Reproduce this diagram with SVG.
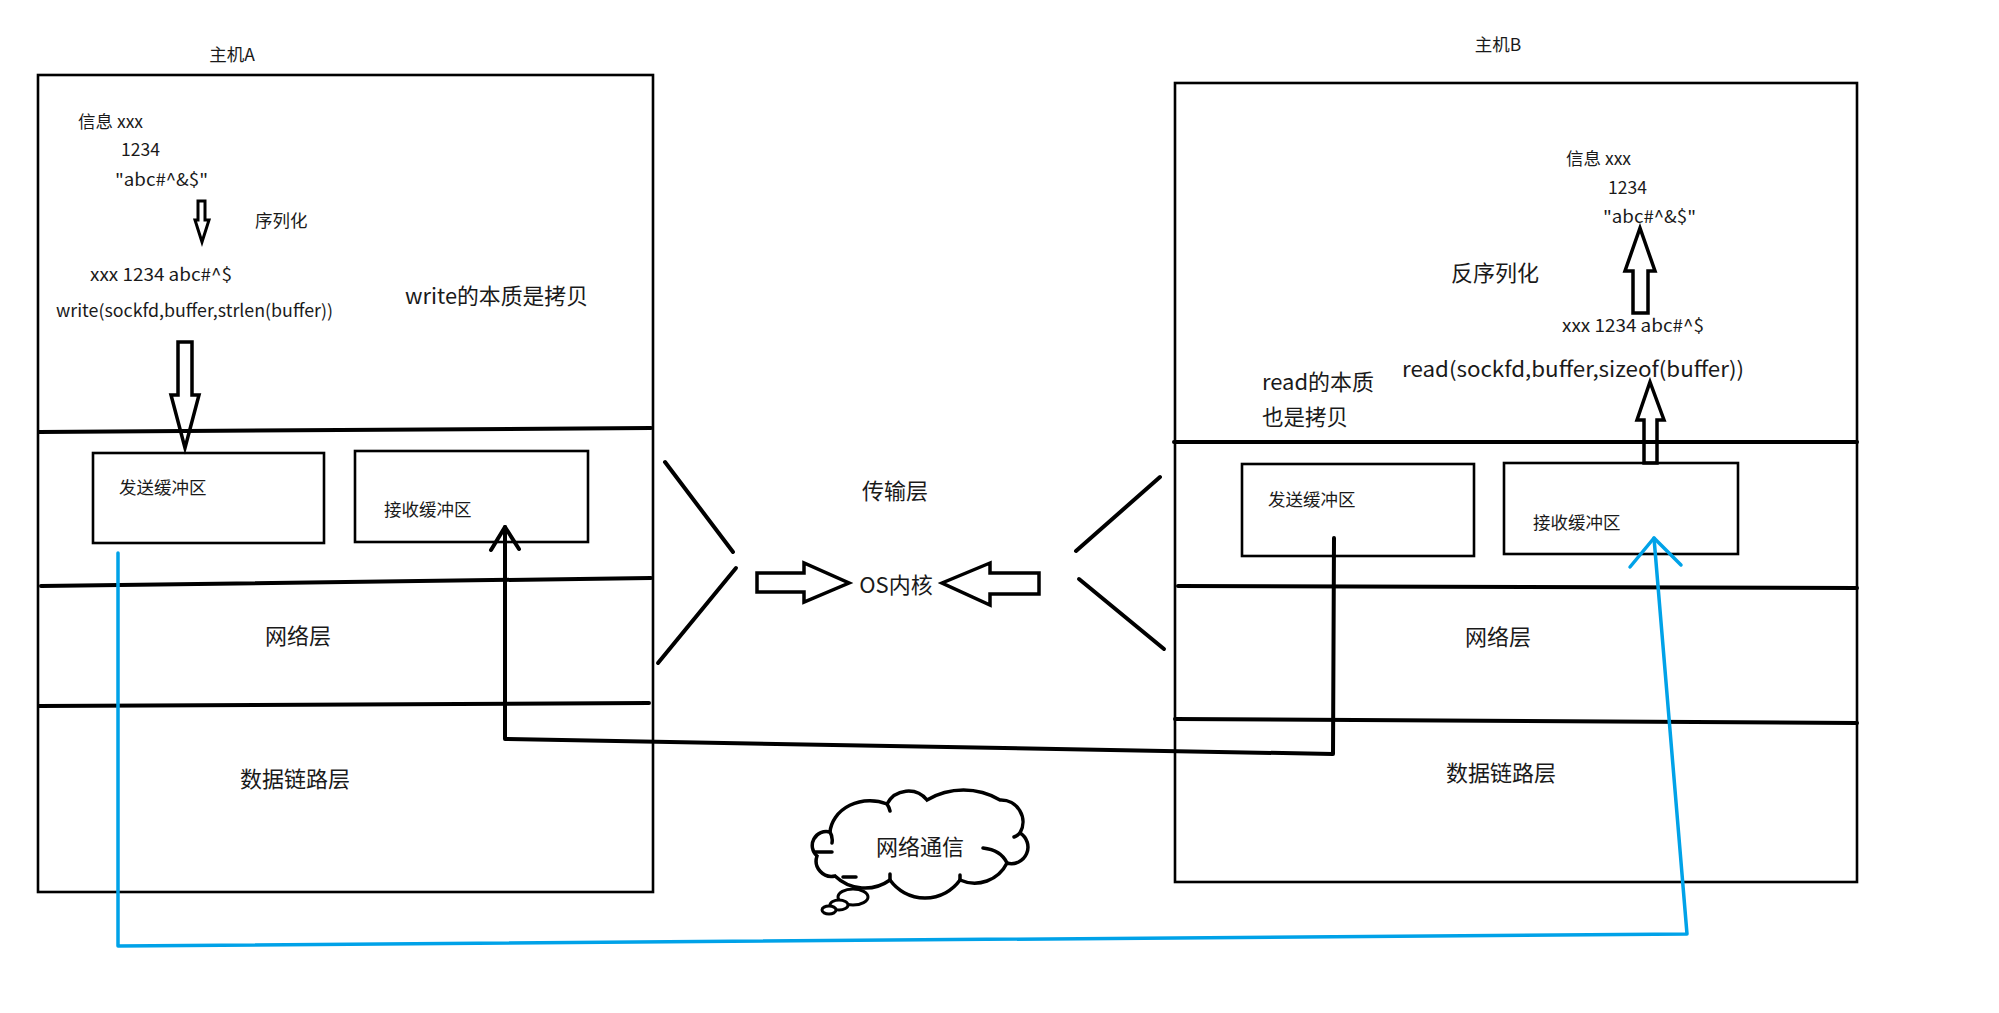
<svg xmlns="http://www.w3.org/2000/svg" width="1999" height="1013" viewBox="0 0 1999 1013">
<style>
text{font-family:"Noto Sans CJK SC","Noto Sans",sans-serif;fill:#1a1a1a}
.s{font-size:17.5px}
.m{font-size:21.5px}
.l{font-size:22px}
.box{fill:none;stroke:#000;stroke-width:2.6}
.layer{fill:none;stroke:#000;stroke-width:4;stroke-linecap:round}
.hollow{fill:none;stroke:#000;stroke-width:3.5;stroke-linejoin:miter}
.hollow2{fill:none;stroke:#000;stroke-width:3;stroke-linejoin:miter}
.conn{fill:none;stroke:#000;stroke-width:4;stroke-linejoin:round;stroke-linecap:round}
.blue{fill:none;stroke:#00a2e8;stroke-width:3.5;stroke-linejoin:round;stroke-linecap:round}
.slash{stroke:#000;stroke-width:4;stroke-linecap:round}
.cl{fill:none;stroke:#000;stroke-width:3.5;stroke-linecap:round}
</style>
<rect width="1999" height="1013" fill="#fff"/>

<g id="hostA">
  <text class="s" x="232" y="61" text-anchor="middle">主机A</text>
  <rect class="box" x="38" y="75" width="615" height="817"/>
  <text class="s" x="78" y="128">信息 xxx</text>
  <text class="s" x="121" y="156">1234</text>
  <text class="s" x="115" y="186" textLength="93" lengthAdjust="spacingAndGlyphs">"abc#^&amp;$"</text>
  <polygon class="hollow2" points="198,201 205,201 205,220 209,220 202,242 195,220 198,220"/>
  <text class="s" x="255" y="227">序列化</text>
  <text class="s" x="90" y="281" textLength="142" lengthAdjust="spacingAndGlyphs">xxx 1234 abc#^$</text>
  <text class="s" x="56" y="317" textLength="277" lengthAdjust="spacingAndGlyphs">write(sockfd,buffer,strlen(buffer))</text>
  <text class="m" x="405" y="304" textLength="183" lengthAdjust="spacingAndGlyphs">write的本质是拷贝</text>
  <polygon class="hollow" points="178,342 192,342 192,395 199,395 185,448 171,395 178,395"/>
  <line class="layer" x1="39" y1="432" x2="651" y2="428"/>
  <g id="sendBufA">
    <rect class="box" x="93" y="453" width="231" height="90"/>
    <text class="s" x="119" y="494">发送缓冲区</text>
  </g>
  <g id="recvBufA">
    <rect class="box" x="355" y="451" width="233" height="91"/>
    <text class="s" x="384" y="516">接收缓冲区</text>
  </g>
  <line class="layer" x1="41" y1="586" x2="651" y2="578"/>
  <text class="l" x="298" y="644" text-anchor="middle">网络层</text>
  <line class="layer" x1="39" y1="706" x2="649" y2="703"/>
  <text class="l" x="295" y="787" text-anchor="middle">数据链路层</text>
</g>

<g id="kernel">
  <line class="slash" x1="665" y1="462" x2="733" y2="552"/>
  <line class="slash" x1="736" y1="568" x2="658" y2="663"/>
  <line class="slash" x1="1160" y1="477" x2="1076" y2="551"/>
  <line class="slash" x1="1079" y1="579" x2="1164" y2="649"/>
  <text class="l" x="895" y="499" text-anchor="middle">传输层</text>
  <polygon class="hollow" points="757,573 804,573 804,563 849,583 804,602 804,592 757,592"/>
  <text class="l" x="896" y="593" text-anchor="middle">OS内核</text>
  <polygon class="hollow" points="1039,573 990,573 990,563 942,583 990,605 990,594 1039,594"/>
</g>

<g id="cloud">
  <path class="cl" fill="#fff" style="fill:#fff" d="M817,856 A14,14 0 0 1 830,832 A40,34 0 0 1 887,804 A24,24 0 0 1 927,800 A72,72 0 0 1 1000,800 A22,22 0 0 1 1020,833 A16.5,16.5 0 0 1 1007,863 A36,36 0 0 1 960,880 A43,43 0 0 1 890,880 A43,43 0 0 1 835,876 A15.4,15.4 0 0 1 817,856 Z"/>
  <path class="cl" d="M830,832 q3,5 2,11 M815,852 l17,0 M887,804 q2,3 3,7 M1020,833 q-3,3 -6,4 M983,848 q18,2 24,15 M960,880 l0,-5 M890,880 l0,-6 M843,877 l13,0"/>
  <ellipse cx="853" cy="897" rx="15" ry="8" fill="#fff" stroke="#000" stroke-width="3"/>
  <ellipse cx="839" cy="905" rx="9" ry="5" fill="#fff" stroke="#000" stroke-width="3"/>
  <ellipse cx="829" cy="910" rx="7" ry="4" fill="#fff" stroke="#000" stroke-width="3"/>
  <text class="l" x="920" y="855" text-anchor="middle">网络通信</text>
</g>

<g id="hostB">
  <text class="s" x="1498" y="51" text-anchor="middle">主机B</text>
  <rect class="box" x="1175" y="83" width="682" height="799"/>
  <text class="s" x="1566" y="165">信息 xxx</text>
  <text class="s" x="1608" y="194">1234</text>
  <text class="s" x="1603" y="223" textLength="93" lengthAdjust="spacingAndGlyphs">"abc#^&amp;$"</text>
  <polygon class="hollow" points="1640,228 1655,271 1648,271 1648,313 1633,313 1633,271 1625,271"/>
  <text class="l" x="1451" y="281">反序列化</text>
  <text class="s" x="1562" y="332" textLength="142" lengthAdjust="spacingAndGlyphs">xxx 1234 abc#^$</text>
  <text style="font-size:21px" x="1402" y="377" textLength="342" lengthAdjust="spacingAndGlyphs">read(sockfd,buffer,sizeof(buffer))</text>
  <text class="m" x="1262" y="390" textLength="112" lengthAdjust="spacingAndGlyphs">read的本质</text>
  <text class="m" x="1262" y="425">也是拷贝</text>
  <polygon class="hollow" points="1650,382 1664,420 1657,420 1657,463 1644,463 1644,420 1637,420"/>
  <line class="layer" x1="1174" y1="442" x2="1857" y2="442"/>
  <g id="sendBufB">
    <rect class="box" x="1242" y="464" width="232" height="92"/>
    <text class="s" x="1268" y="506">发送缓冲区</text>
  </g>
  <g id="recvBufB">
    <rect class="box" x="1504" y="463" width="234" height="91"/>
    <text class="s" x="1533" y="529">接收缓冲区</text>
  </g>
  <line class="layer" x1="1178" y1="586" x2="1857" y2="588"/>
  <text class="l" x="1498" y="645" text-anchor="middle">网络层</text>
  <line class="layer" x1="1175" y1="719" x2="1857" y2="723"/>
  <text class="l" x="1501" y="781" text-anchor="middle">数据链路层</text>
</g>

<g id="connectors">
  <polyline class="conn" points="1334,538 1333,754 505,739 505,527"/>
  <polyline class="conn" points="491,550 505,527 519,549"/>
  <polyline class="blue" points="118,553 118,946 1687,934 1654,538"/>
  <polyline class="blue" points="1630,567 1654,538 1681,565"/>
</g>
</svg>
